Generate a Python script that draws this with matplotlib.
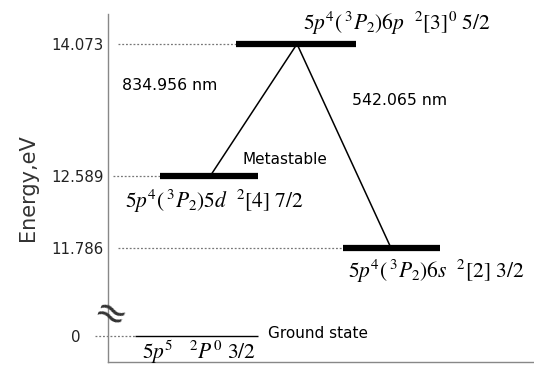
import matplotlib
matplotlib.use("Agg")
import matplotlib.pyplot as plt

# energy levels (eV) and their term labels
energies = [14.073, 12.589, 11.786, 0.0]
tick_labels = ["14.073", "12.589", "11.786", "0"]
terms = [r"$5p^4(\,^3P_2)6p\ \ ^2[3]^0\ 5/2$",
         r"$5p^4(\,^3P_2)5d\ \ ^2[4]\ 7/2$",
         r"$5p^4(\,^3P_2)6s\ \ ^2[2]\ 3/2$",
         r"$5p^5\ \ \ ^2P^0\ 3/2$"]
wavelengths = ["834.956 nm", "542.065 nm"]
transitions = [(0, 1), (0, 2)]   # upper -> lower level index

# ground state sits below the axis break
BREAK_Y = 10.80


def ypos(e):
    return e if e > 5 else BREAK_Y


# layout (x in pixels from the energy axis)
bar_x = [(128, 248), (52, 150), (235, 332), (27, 150)]
dot_x0 = [10, 5, 10, -13]
bar_lw = [4.5, 4.5, 4.5, 1.0]
trans_x = [(189, 102), (189, 283)]

plt.rcParams["mathtext.fontset"] = "stix"
fig = plt.figure(figsize=(5.34, 3.65), dpi=100)
ax = fig.add_axes([108 / 534, 3 / 365, 426 / 534, 348 / 365])
ax.set_xlim(0, 426)
ax.set_ylim(10.508, 14.409)

for i, e in enumerate(energies):
    y = ypos(e)
    x0, x1 = bar_x[i]
    ax.plot([dot_x0[i], x0], [y, y], color="#777777", lw=0.9, ls=(0, (1.5, 1.5)),
            clip_on=False)
    ax.plot([x0, x1], [y, y], color="black", lw=bar_lw[i], solid_capstyle="butt")

for k, (u, l) in enumerate(transitions):
    xu, xl = trans_x[k]
    ax.plot([xu, xl], [ypos(energies[u]), ypos(energies[l])], color="black", lw=1.1)

# term labels
TS = 15.5
ax.text(195, 14.31, terms[0], fontsize=TS, va="center", ha="left")
ax.text(17, 12.31, terms[1], fontsize=TS, va="center", ha="left")
ax.text(240, 11.52, terms[2], fontsize=TS, va="center", ha="left")
ax.text(34, 10.615, terms[3], fontsize=TS, va="center", ha="left")
ax.text(160, 10.83, "Ground state", fontsize=11, va="center", ha="left")
ax.text(135, 12.78, "Metastable", fontsize=11, va="center", ha="left")
ax.text(14, 13.61, wavelengths[0], fontsize=11.3, va="center", ha="left")
ax.text(244, 13.44, wavelengths[1], fontsize=11.3, va="center", ha="left")

# axis break mark
ax.text(2, 11.03, "\u2248", fontsize=28, ha="center", va="center", rotation=-25,
        color="#333333", clip_on=False)

ax.set_yticks([ypos(e) for e in energies])
ax.set_yticklabels(tick_labels, fontsize=10.8, color="#222222")
ax.tick_params(axis="y", length=0, pad=3)
ax.get_yticklabels()[-1].set_x(-0.055)
ax.set_xticks([])
for s in ("top", "right"):
    ax.spines[s].set_visible(False)
for s in ("left", "bottom"):
    ax.spines[s].set_color("#888888")
    ax.spines[s].set_linewidth(1.0)
ax.set_ylabel("Energy,eV", fontsize=15, color="#333333", labelpad=10)

fig.savefig("out.png", dpi=100)
